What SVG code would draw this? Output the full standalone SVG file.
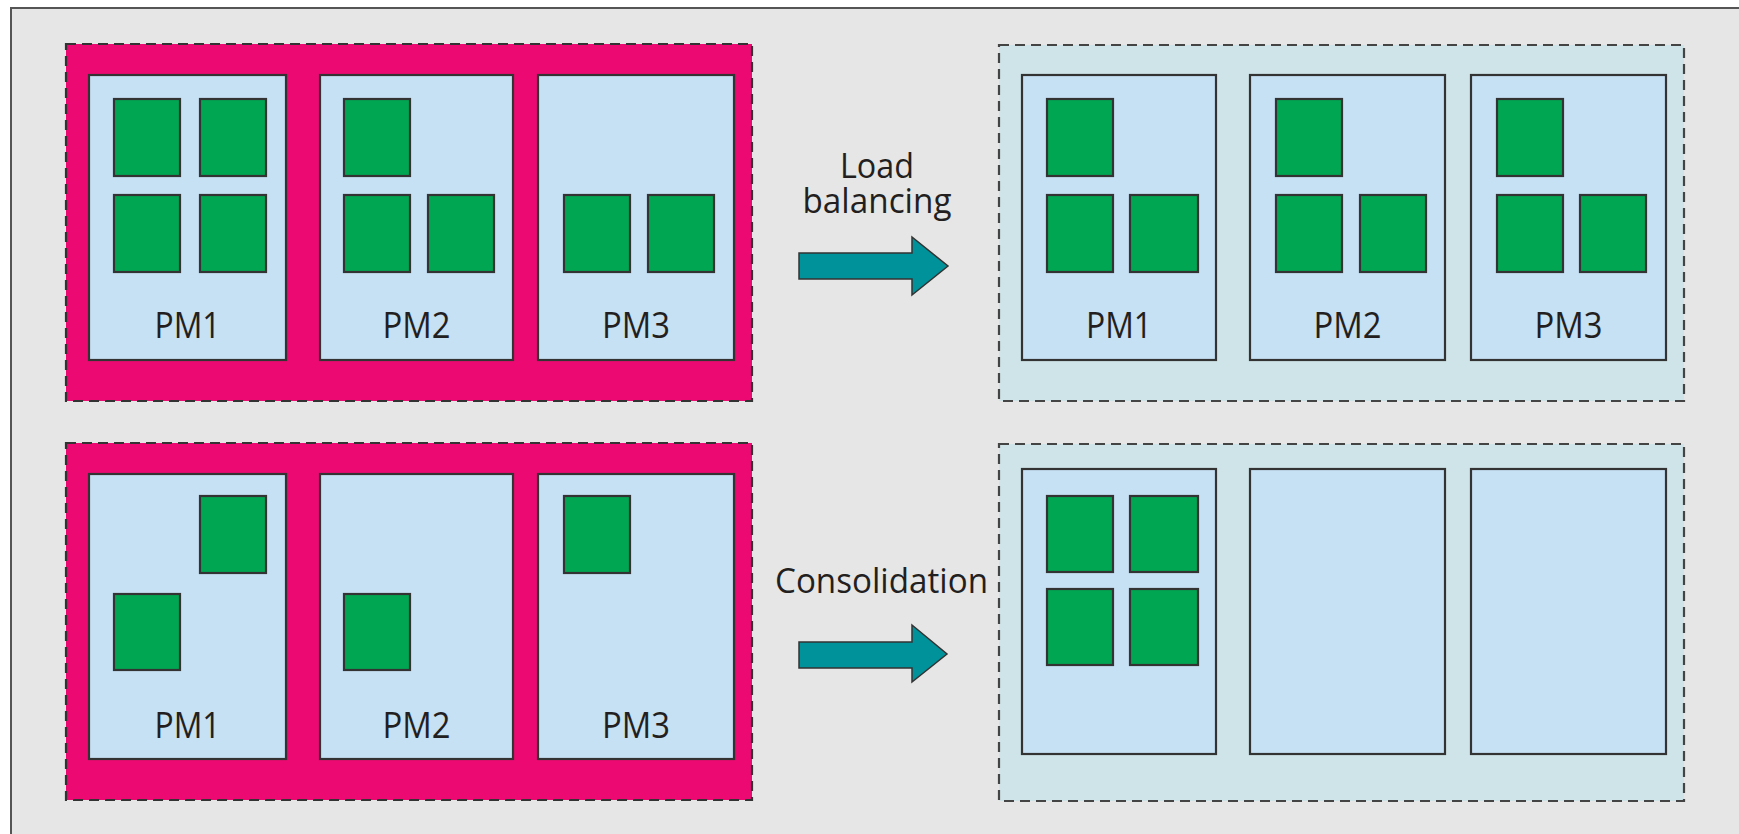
<svg xmlns="http://www.w3.org/2000/svg" width="1739" height="834" viewBox="0 0 1739 834">
<style>
.frame{fill:#E6E6E6;stroke:#555;stroke-width:2}
.pink{fill:#EC0A72;stroke:#333;stroke-width:2.2;stroke-dasharray:10 6}
.teal{fill:#CFE4E8;stroke:#444;stroke-width:2.2;stroke-dasharray:10 6}
.pm{fill:#C6E0F4;stroke:#333;stroke-width:2.2}
.vm{fill:#00A651;stroke:#333;stroke-width:2.2}
.arrow{fill:#00929B;stroke:#333;stroke-width:1.5}
text{font-family:"Open Sans","DejaVu Sans",sans-serif;fill:#231F20;text-anchor:middle}
.lbl{font-size:36px}
.cap{font-size:34px}
</style>
<rect x="0" y="0" width="1739" height="834" fill="#FFFFFF"/>
<rect class="frame" x="11" y="8" width="1740" height="840"/>

<g id="group-top-left">
<rect class="pink" x="66" y="44" width="686" height="357"/>
</g>
<g id="group-bottom-left">
<rect class="pink" x="66" y="443" width="686" height="357"/>
</g>
<g id="group-top-right">
<rect class="teal" x="999" y="45" width="685" height="356"/>
</g>
<g id="group-bottom-right">
<rect class="teal" x="999" y="444" width="685" height="357"/>
</g>

<g id="tl-pm1">
<rect class="pm" x="89" y="75" width="197" height="285"/>
<rect class="vm" x="114" y="99" width="66" height="77"/>
<rect class="vm" x="200" y="99" width="66" height="77"/>
<rect class="vm" x="114" y="195" width="66" height="77"/>
<rect class="vm" x="200" y="195" width="66" height="77"/>
<text class="lbl" x="187.5" y="338" textLength="66" lengthAdjust="spacingAndGlyphs">PM1</text>
</g>
<g id="tl-pm2">
<rect class="pm" x="320" y="75" width="193" height="285"/>
<rect class="vm" x="344" y="99" width="66" height="77"/>
<rect class="vm" x="344" y="195" width="66" height="77"/>
<rect class="vm" x="428" y="195" width="66" height="77"/>
<text class="lbl" x="416.5" y="338" textLength="68" lengthAdjust="spacingAndGlyphs">PM2</text>
</g>
<g id="tl-pm3">
<rect class="pm" x="538" y="75" width="196" height="285"/>
<rect class="vm" x="564" y="195" width="66" height="77"/>
<rect class="vm" x="648" y="195" width="66" height="77"/>
<text class="lbl" x="636" y="338" textLength="68" lengthAdjust="spacingAndGlyphs">PM3</text>
</g>

<g id="bl-pm1">
<rect class="pm" x="89" y="474" width="197" height="285"/>
<rect class="vm" x="200" y="496" width="66" height="77"/>
<rect class="vm" x="114" y="594" width="66" height="76"/>
<text class="lbl" x="187.5" y="738" textLength="66" lengthAdjust="spacingAndGlyphs">PM1</text>
</g>
<g id="bl-pm2">
<rect class="pm" x="320" y="474" width="193" height="285"/>
<rect class="vm" x="344" y="594" width="66" height="76"/>
<text class="lbl" x="416.5" y="738" textLength="68" lengthAdjust="spacingAndGlyphs">PM2</text>
</g>
<g id="bl-pm3">
<rect class="pm" x="538" y="474" width="196" height="285"/>
<rect class="vm" x="564" y="496" width="66" height="77"/>
<text class="lbl" x="636" y="738" textLength="68" lengthAdjust="spacingAndGlyphs">PM3</text>
</g>

<g id="tr-pm1">
<rect class="pm" x="1022" y="75" width="194" height="285"/>
<rect class="vm" x="1047" y="99" width="66" height="77"/>
<rect class="vm" x="1047" y="195" width="66" height="77"/>
<rect class="vm" x="1130" y="195" width="68" height="77"/>
<text class="lbl" x="1119" y="338" textLength="66" lengthAdjust="spacingAndGlyphs">PM1</text>
</g>
<g id="tr-pm2">
<rect class="pm" x="1250" y="75" width="195" height="285"/>
<rect class="vm" x="1276" y="99" width="66" height="77"/>
<rect class="vm" x="1276" y="195" width="66" height="77"/>
<rect class="vm" x="1360" y="195" width="66" height="77"/>
<text class="lbl" x="1347.5" y="338" textLength="68" lengthAdjust="spacingAndGlyphs">PM2</text>
</g>
<g id="tr-pm3">
<rect class="pm" x="1471" y="75" width="195" height="285"/>
<rect class="vm" x="1497" y="99" width="66" height="77"/>
<rect class="vm" x="1497" y="195" width="66" height="77"/>
<rect class="vm" x="1580" y="195" width="66" height="77"/>
<text class="lbl" x="1568.5" y="338" textLength="68" lengthAdjust="spacingAndGlyphs">PM3</text>
</g>

<g id="br-pm1">
<rect class="pm" x="1022" y="469" width="194" height="285"/>
<rect class="vm" x="1047" y="496" width="66" height="76"/>
<rect class="vm" x="1130" y="496" width="68" height="76"/>
<rect class="vm" x="1047" y="589" width="66" height="76"/>
<rect class="vm" x="1130" y="589" width="68" height="76"/>
</g>
<g id="br-pm2">
<rect class="pm" x="1250" y="469" width="195" height="285"/>
</g>
<g id="br-pm3">
<rect class="pm" x="1471" y="469" width="195" height="285"/>
</g>

<g id="connectors">
<polygon class="arrow" points="799,253 912,253 912,237 948,266 912,295 912,279 799,279"/>
<polygon class="arrow" points="799,642 912,642 912,625 947,654 912,682 912,668 799,668"/>
<text class="cap"><tspan x="877" y="178" textLength="74" lengthAdjust="spacingAndGlyphs">Load</tspan><tspan x="877" y="213" textLength="149" lengthAdjust="spacingAndGlyphs">balancing</tspan></text>
<text class="cap" x="881.5" y="593" textLength="213" lengthAdjust="spacingAndGlyphs">Consolidation</text>
</g>
</svg>
